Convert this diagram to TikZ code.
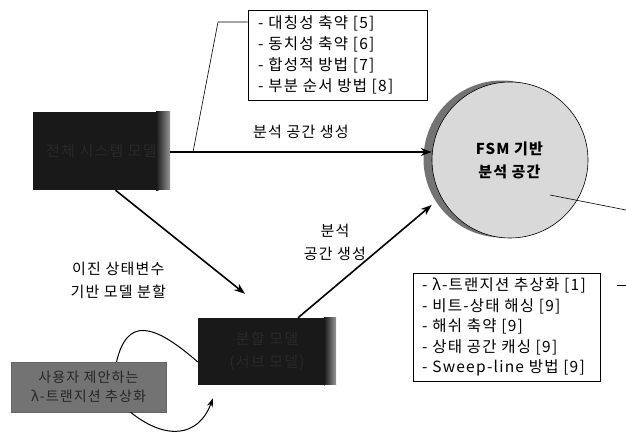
\documentclass[tikz,border=0pt]{standalone}
\usepackage{fontspec}
\setmainfont{Noto Sans CJK KR}[LetterSpace=8]
\usepackage{xcolor}
\usepackage{tikz}
\usetikzlibrary{positioning, arrows.meta}

\tikzset{
  darkbox/.style={fill=black!90, text=black!84, inner sep=0pt, align=center},
  listbox/.style={draw, line width=0.6pt, fill=white, align=left, inner sep=0pt, text width=#1},
  flow/.style={-{Stealth[length=11pt,width=8pt]}, line width=1.6pt},
  leader/.style={line width=0.6pt}
}

\begin{document}
\begin{tikzpicture}[x=1pt, y=-1pt, font=\fontsize{15}{23}\selectfont]
        \useasboundingbox (0,0) rectangle (626,435);
%
        \node[darkbox, minimum width=137pt, minimum height=78pt] (model) at (101.5,151) {전체 시스템 모델};
        \node[darkbox, minimum width=138pt, minimum height=67pt] (part) at (267,351.5) {분할 모델\\(서브 모델)};
        \shade[left color=black!90, right color=black!40] ([xshift=-14pt]model.north east) rectangle (model.south east);
        \shade[left color=black!90, right color=black!40] ([xshift=-12pt]part.north east) rectangle (part.south east);
        \fill[white] ([xshift=-12pt]model.south east) -- (model.south east) -- ([yshift=-12pt]model.south east) -- cycle;
        \fill[white] ([xshift=-12pt]part.south east) -- (part.south east) -- ([yshift=-12pt]part.south east) -- cycle;
%
        \node[draw=black!60, fill=black!55, text=black!85, minimum width=155pt, minimum height=50pt, align=center, inner sep=0pt, font=\fontsize{14}{19}\selectfont] (hint) at (88.5,387) {사용자 제안하는\\λ-트랜지션 추상화};
%
        \node[circle, fill=black!55, minimum size=157pt] (shade) at (502,159) {};
        \node[circle, draw, line width=0.6pt, fill=black!15, minimum size=156pt, align=center] (space) at (510,160) {\textbf{FSM 기반}\\\textbf{분석 공간}};
%
        \node[listbox=179pt, minimum height=90pt] (list1) at (337.5,55) {};
        \node[align=left, font=\fontsize{15.5}{21}\selectfont, anchor=west] (items1) at ([xshift=7pt]list1.west) {- 대칭성 축약 [5]\\- 동치성 축약 [6]\\- 합성적 방법 [7]\\- 부분 순서 방법 [8]};
        \node[listbox=187pt, minimum height=108pt] (list2) at (506.5,327) {};
        \node[align=left, font=\fontsize{15.5}{20.5}\selectfont, anchor=west] (items2) at ([xshift=6pt]list2.west) {- λ-트랜지션 추상화 [1]\\- 비트-상태 해싱 [9]\\- 해쉬 축약 [9]\\- 상태 공간 캐싱 [9]\\- Sweep-line 방법 [9]};
%
        \coordinate (k1) at (218,22);
        \coordinate (k2) at (193,152);
        \coordinate (c1) at (550,195);
        \coordinate (c2) at (626,210);
        \coordinate (d1) at (617,285);
        \coordinate (d2) at (626,285);
%
        \draw[flow] (model.east |- k2) -- (space.west |- k2) node[midway, above=9pt] {분석 공간 생성};
        \draw[flow] ([xshift=14pt]model.south) -- ([xshift=-22pt,yshift=24pt]part.north) node[pos=0.87, left=58pt, align=center] {이진 상태변수\\기반 모델 분할};
        \draw[flow] ([xshift=31pt]part.north) -- (space.west |- 0,205) node[pos=0.45, above left=2pt and -12pt, align=center] {분석\\공간 생성};
%
        \draw[leader] (list1.west |- k1) -- (k1) -- (k2);
        \draw[leader] (c1) -- (c2);
        \draw[leader] (d1) -- (d2);
%
        \draw[line width=1pt] ([xshift=28pt]hint.north) .. controls (127,318) and (152,322) .. (part.west |- 0,362);
        \draw[line width=1pt, -{Stealth[length=9pt,width=6pt]}] ([xshift=42pt]hint.south) .. controls (165,440) and (198,438) .. ([xshift=-54pt,yshift=-13pt]part.south);
\end{tikzpicture}
\end{document}
